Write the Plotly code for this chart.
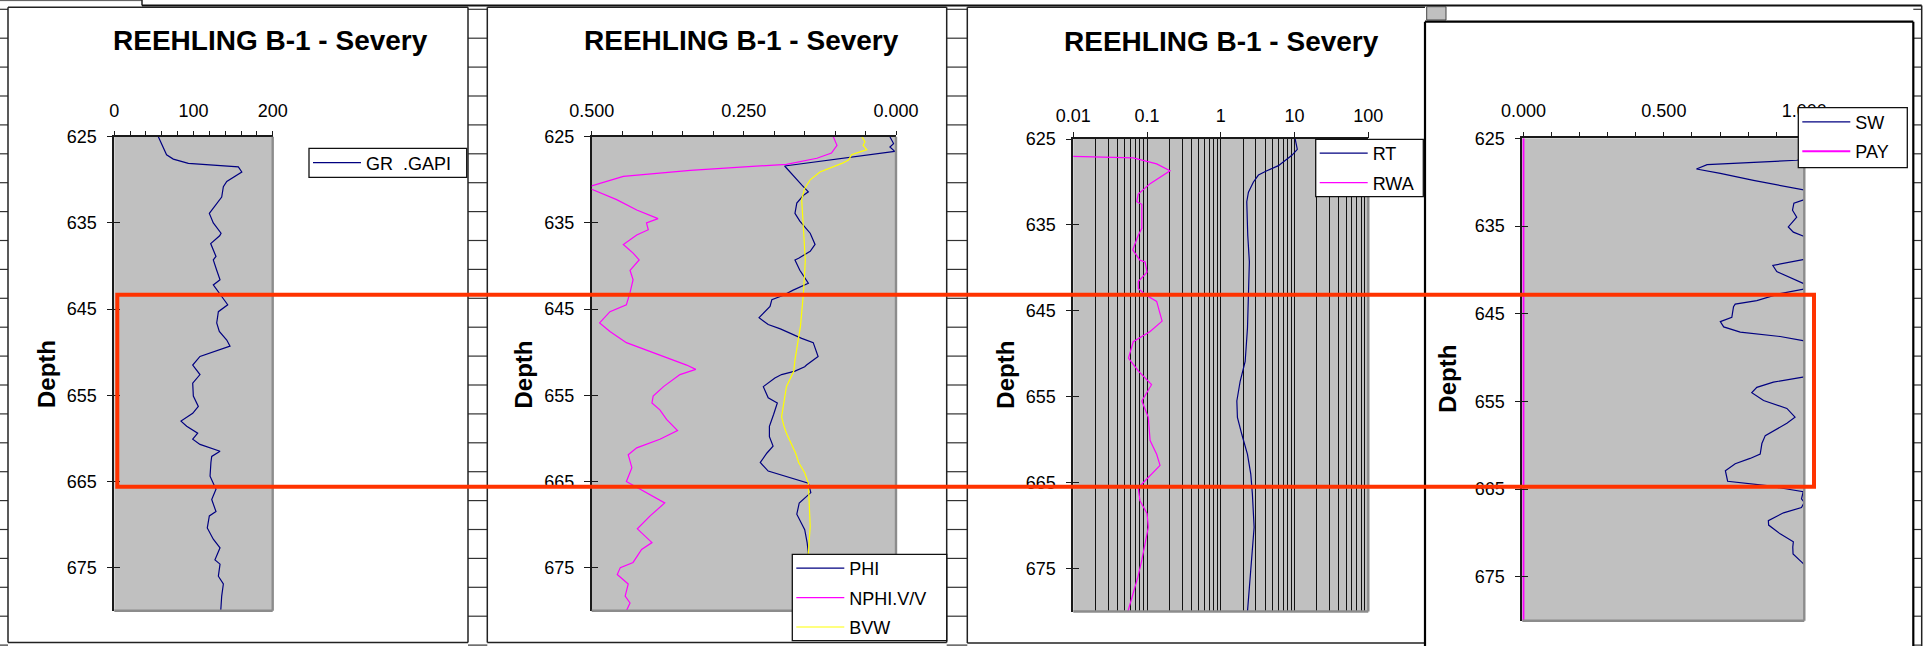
import plotly.graph_objects as go

# ---------------- data ----------------
gr_depth = [625.0, 626.2, 627.1, 627.6, 628.1, 628.5, 629.1, 630.2, 630.8, 632.0, 633.9, 635.0,
            636.2, 636.5, 637.4, 638.9, 639.3, 640.5, 641.6, 642.2, 643.3, 644.5, 645.3, 646.6,
            647.6, 648.6, 649.3, 649.7, 650.5, 651.5, 652.6, 653.6, 655.1, 656.3, 657.1, 658.0,
            658.6, 659.4, 660.1, 660.7, 661.5, 662.1, 662.8, 664.4, 665.9, 667.1, 668.5, 669.0,
            670.4, 671.7, 672.7, 674.1, 674.6, 676.0, 676.9, 678.3, 680.0]
gr_api = [55.6, 61.9, 66.0, 74.5, 93.5, 156.6, 161.0, 142.0, 137.7, 135.6, 120.0, 125.0,
          134.8, 133.0, 121.7, 128.4, 125.0, 129.3, 133.5, 125.0, 133.5, 143.2, 131.4, 129.3,
          132.6, 142.0, 146.1, 133.5, 108.2, 99.0, 108.2, 99.0, 99.8, 106.1, 99.0, 84.2,
          91.4, 105.3, 99.0, 108.2, 133.5, 123.0, 122.0, 120.9, 128.4, 123.0, 128.4, 120.0,
          117.4, 125.0, 133.5, 127.1, 133.5, 131.4, 137.7, 135.6, 134.4]

phi_depth = [625.0, 625.8, 626.2, 626.7, 628.4, 628.8, 629.6, 630.6, 631.4, 631.8, 632.7, 633.9,
             634.8, 636.2, 637.5, 638.3, 639.1, 639.3, 640.5, 641.4, 642.0, 642.8, 643.4, 643.9,
             644.7, 646.0, 646.8, 647.3, 648.4, 648.9, 650.5, 651.5, 651.7, 652.2, 652.6, 653.0,
             654.0, 655.3, 655.9, 657.2, 658.6, 659.8, 660.9, 661.7, 662.8, 663.8, 664.4, 665.2,
             666.3, 667.5, 668.8, 670.6, 672.1, 673.3, 676.0, 680.0]
phi = [0.010, 0.004, 0.010, 0.002, 0.183, 0.178, 0.169, 0.155, 0.144, 0.152, 0.163, 0.166,
       0.158, 0.141, 0.133, 0.141, 0.160, 0.166, 0.158, 0.150, 0.144, 0.169, 0.185, 0.204,
       0.207, 0.225, 0.210, 0.190, 0.155, 0.136, 0.128, 0.147, 0.150, 0.166, 0.188, 0.199,
       0.218, 0.210, 0.195, 0.201, 0.208, 0.208, 0.202, 0.212, 0.223, 0.210, 0.180, 0.144,
       0.140, 0.159, 0.163, 0.150, 0.146, 0.144, 0.145, 0.146]

nphi_depth = [625.0, 626.0, 626.9, 627.5, 628.2, 628.9, 629.6, 630.7, 630.9, 631.1, 632.3, 633.5,
              634.5, 635.0, 635.8, 636.4, 637.5, 638.5, 639.3, 640.5, 641.6, 643.1, 644.5, 645.3,
              646.6, 647.6, 648.9, 650.5, 651.5, 652.0, 652.6, 654.0, 655.1, 655.9, 656.7, 657.8,
              659.1, 660.1, 661.1, 661.9, 663.4, 665.0, 666.3, 667.5, 669.0, 670.5, 672.1, 672.9,
              674.4, 675.0, 675.8, 676.9, 678.3, 679.1, 680.0]
nphi = [0.103, 0.097, 0.106, 0.130, 0.180, 0.338, 0.448, 0.500, 0.520, 0.500, 0.459, 0.426,
        0.391, 0.410, 0.407, 0.426, 0.448, 0.432, 0.422, 0.437, 0.432, 0.437, 0.443, 0.470,
        0.487, 0.470, 0.443, 0.382, 0.344, 0.329, 0.355, 0.382, 0.399, 0.401, 0.388, 0.377,
        0.359, 0.388, 0.426, 0.440, 0.434, 0.443, 0.410, 0.380, 0.404, 0.425, 0.401, 0.418,
        0.432, 0.453, 0.458, 0.440, 0.445, 0.437, 0.443]

bvw_depth = [625.0, 625.6, 626.0, 626.5, 627.1, 627.7, 628.1, 629.1, 630.0, 631.0, 632.3, 636.2,
             639.3, 643.1, 647.0, 650.9, 652.2, 654.0, 656.7, 657.5, 658.6, 659.4, 661.7, 662.8,
             664.0, 665.2, 670.2, 673.3, 680.0]
bvw = [0.056, 0.051, 0.054, 0.048, 0.073, 0.078, 0.089, 0.125, 0.141, 0.150, 0.155, 0.152,
       0.149, 0.152, 0.157, 0.166, 0.168, 0.180, 0.186, 0.188, 0.184, 0.180, 0.165, 0.160,
       0.150, 0.144, 0.141, 0.144, 0.143]

rt_depth = [625.0, 625.3, 626.2, 626.9, 628.1, 628.7, 629.2, 630.0, 631.2, 632.3, 636.2, 639.3,
            647.0, 650.9, 653.2, 655.5, 657.4, 659.4, 661.7, 664.0, 666.3, 670.2, 675.0, 680.0]
rt = [10.2, 10.4, 10.9, 9.2, 6.05, 4.21, 3.24, 2.77, 2.37, 2.25, 2.32, 2.44,
      2.30, 2.14, 1.83, 1.65, 1.68, 1.93, 2.30, 2.55, 2.68, 2.83, 2.55, 2.30]

rwa_depth = [626.9, 627.2, 627.9, 628.7, 630.2, 631.4, 632.3, 632.6, 635.4, 636.2, 637.9, 639.1,
             639.3, 640.5, 641.6, 642.4, 643.1, 643.9, 646.2, 647.4, 648.6, 650.5, 652.0, 653.6,
             655.5, 657.4, 660.1, 661.7, 663.0, 664.4, 665.6, 667.1, 668.6, 670.2, 672.0, 674.0,
             676.0, 678.0, 680.0]
rwa = [0.003, 0.065, 0.135, 0.205, 0.110, 0.076, 0.0725, 0.085, 0.085, 0.076, 0.064, 0.080,
       0.094, 0.100, 0.076, 0.076, 0.094, 0.135, 0.160, 0.110, 0.065, 0.056, 0.076, 0.115,
       0.085, 0.104, 0.110, 0.135, 0.150, 0.104, 0.076, 0.080, 0.100, 0.104, 0.095, 0.085,
       0.075, 0.065, 0.055]

sw_depth = [625.0, 627.4, 627.5, 627.7, 628.0, 628.5, 629.0, 629.8, 630.5, 630.9, 631.5, 632.0,
            632.4, 633.2, 634.0, 635.1, 635.7, 636.2, 637.5, 638.8, 639.5, 640.2, 641.2, 641.6,
            641.9, 642.2, 642.7, 643.5, 643.9, 644.2, 645.4, 645.9, 646.5, 647.1, 647.6, 648.1,
            650.0, 652.2, 652.8, 653.4, 654.0, 654.9, 655.8, 656.8, 657.5, 658.9, 659.8, 661.0,
            661.5, 662.1, 662.9, 664.1, 664.6, 665.3, 666.1, 666.5, 667.1, 667.7, 668.6, 669.1,
            670.1, 671.0, 671.6, 672.4, 673.1, 673.6, 675.0, 680.0]
sw = [1.0, 1.0, 0.973, 0.843, 0.654, 0.616, 0.701, 0.819, 0.938, 1.0, 1.1, 1.0,
      0.963, 0.958, 0.973, 0.943, 0.961, 1.0, 1.1, 1.0, 0.888, 0.902, 0.973, 1.0,
      1.05, 1.0, 0.914, 0.831, 0.754, 0.748, 0.742, 0.701, 0.713, 0.772, 0.914, 1.0,
      1.1, 1.0, 0.890, 0.831, 0.813, 0.855, 0.938, 0.967, 0.938, 0.861, 0.849, 0.843,
      0.807, 0.754, 0.719, 0.727, 0.867, 0.996, 0.990, 1.0, 0.990, 0.926, 0.872, 0.873,
      0.914, 0.961, 0.959, 0.960, 0.985, 1.0, 1.1, 1.1]

pay_depth = [625.0, 680.0]
pay = [0.0, 0.0]

depth_ticks = [625, 635, 645, 655, 665, 675]
depth_range = [680, 625]
gr_ticks = list(range(0, 201, 20))
gr_labels = {0: "0", 100: "100", 200: "200"}
por_ticks = [round(0.05 * i, 2) for i in range(11)]
por_labels = {0.5: "0.500", 0.25: "0.250", 0.0: "0.000"}
res_major = [0.01, 0.1, 1, 10, 100]
res_labels = ["0.01", "0.1", "1", "10", "100"]
sw_ticks = [round(0.1 * i, 1) for i in range(11)]
sw_labels = {0.0: "0.000", 0.5: "0.500", 1.0: "1.000"}
title_text = "REEHLING B-1 - Severy"

# ---------------- layout helpers ----------------
W, H = 1931, 646
FONT = "Liberation Sans, Arial, sans-serif"
NAVY, MAG, YEL = "#000080", "#FF00FF", "#FFFF00"
BG = "#C0C0C0"
AX = "#1a1a1a"
FS = 18
TICKF = dict(family=FONT, size=FS, color="black")


def px_x(a, b):
    return [a / W, b / W]


def px_y(top, bottom):
    return [1 - bottom / H, 1 - top / H]


panels = {
    1: dict(x=(114.3, 272.7), y=(136.7, 610.7)),
    2: dict(x=(591.7, 896.0), y=(136.7, 610.7)),
    3: dict(x=(1073.3, 1368.3), y=(139.0, 611.5)),
    4: dict(x=(1522.3, 1804.3), y=(138.3, 620.7)),
}

fig = go.Figure()

fig.add_trace(go.Scatter(x=gr_api, y=gr_depth, mode="lines", name="GR\u00a0\u00a0.GAPI",
                         line=dict(color=NAVY, width=1.2), xaxis="x", yaxis="y", legend="legend"))
fig.add_trace(go.Scatter(x=phi, y=phi_depth, mode="lines", name="PHI", legendgroup="a",
                         line=dict(color=NAVY, width=1.2), xaxis="x2", yaxis="y2", legend="legend2"))
fig.add_trace(go.Scatter(x=nphi, y=nphi_depth, mode="lines", name="NPHI.V/V", legendgroup="b",
                         line=dict(color=MAG, width=1.2), xaxis="x2", yaxis="y2", legend="legend2"))
fig.add_trace(go.Scatter(x=bvw, y=bvw_depth, mode="lines", name="BVW", legendgroup="c",
                         line=dict(color=YEL, width=1.2), xaxis="x2", yaxis="y2", legend="legend2"))
fig.add_trace(go.Scatter(x=rt, y=rt_depth, mode="lines", name="RT", legendgroup="a",
                         line=dict(color=NAVY, width=1.2), xaxis="x3", yaxis="y3", legend="legend3"))
fig.add_trace(go.Scatter(x=rwa, y=rwa_depth, mode="lines", name="RWA", legendgroup="b",
                         line=dict(color=MAG, width=1.2), xaxis="x3", yaxis="y3", legend="legend3"))
fig.add_trace(go.Scatter(x=sw, y=sw_depth, mode="lines", name="SW", legendgroup="a",
                         line=dict(color=NAVY, width=1.2), xaxis="x4", yaxis="y4", legend="legend4"))
fig.add_trace(go.Scatter(x=pay, y=pay_depth, mode="lines", name="PAY", legendgroup="b",
                         line=dict(color=MAG, width=2), xaxis="x4", yaxis="y4", legend="legend4"))

# empty helper traces so that the overlay axes (inside ticks / log labels) get drawn
for xa, ya in [("x", "y5"), ("x2", "y6"), ("x3", "y7"), ("x4", "y8"), ("x5", "y3")]:
    fig.add_trace(go.Scatter(x=[], y=[], mode="lines", xaxis=xa, yaxis=ya, showlegend=False,
                             hoverinfo="skip"))


def yax(i, inside=False):
    p = panels[i]
    d = dict(domain=px_y(*p["y"]), range=depth_range, tickmode="array", tickvals=depth_ticks,
             showgrid=False, zeroline=False, fixedrange=True, automargin=False)
    if inside:
        d.update(ticks="inside", ticklen=6, tickwidth=1.2, tickcolor=AX, showticklabels=False,
                 showline=False, overlaying="y" if i == 1 else "y%d" % i,
                 anchor="x" if i == 1 else "x%d" % i)
    else:
        d.update(ticks="outside", ticklen=6, tickwidth=1.2, tickcolor=AX, tickfont=TICKF,
                 ticklabelstandoff=6, showline=True, linecolor=AX, linewidth=1.6,
                 anchor="x" if i == 1 else "x%d" % i, layer="below traces")
    return d


def xax(i, rng, tickvals, ticktext, ticklen=4):
    p = panels[i]
    return dict(domain=px_x(*p["x"]), range=rng, side="top", tickmode="array",
                tickvals=tickvals, ticktext=ticktext, ticks="outside", ticklen=ticklen,
                tickwidth=1.2, tickcolor=AX, tickfont=TICKF, ticklabelstandoff=7, tickangle=0,
                showline=True, linecolor=AX, linewidth=1.6, showgrid=False, zeroline=False,
                anchor="y" if i == 1 else "y%d" % i, fixedrange=True, automargin=False)


res_grid = [m * 10.0 ** e for e in range(-2, 2) for m in range(1, 10)] + [100]

layout = dict(
    width=W, height=H, autosize=False, margin=dict(l=0, r=0, t=0, b=0, pad=0),
    paper_bgcolor="white", plot_bgcolor=BG, font=dict(family=FONT, color="black"),
    xaxis=xax(1, [0, 200], gr_ticks, [gr_labels.get(v, "") for v in gr_ticks]),
    xaxis2=xax(2, [0.5, 0], por_ticks, [por_labels.get(v, "") for v in por_ticks]),
    xaxis3=dict(domain=px_x(*panels[3]["x"]), type="log", range=[-2, 2], side="top",
                tickmode="array", tickvals=res_grid, ticks="", showticklabels=False,
                showgrid=True, gridcolor="#111111", gridwidth=1, showline=True,
                linecolor=AX, linewidth=1.6, zeroline=False, anchor="y3", fixedrange=True,
                automargin=False),
    xaxis5=dict(type="log", range=[-2, 2], side="top", overlaying="x3", anchor="y3",
                tickmode="array", tickvals=res_major, ticktext=res_labels, ticks="outside",
                ticklen=6, tickwidth=1.2, tickcolor=AX, tickfont=TICKF, ticklabelstandoff=3,
                tickangle=0, showgrid=False, showline=False, zeroline=False, fixedrange=True,
                automargin=False),
    xaxis4=xax(4, [-0.004, 1.0], sw_ticks, [sw_labels.get(v, "") for v in sw_ticks], ticklen=5),
    yaxis=yax(1), yaxis2=yax(2), yaxis3=yax(3), yaxis4=yax(4),
    yaxis5=yax(1, True), yaxis6=yax(2, True), yaxis7=yax(3, True), yaxis8=yax(4, True),
    showlegend=True,
)

# legend boxes (drawn as shapes) and the legend entries placed inside them
legend_boxes = {
    "legend": dict(box=(309, 148.3, 466.7, 177.3), first=163.5),
    "legend2": dict(box=(792.3, 554.3, 946.7, 640.7), first=569),
    "legend3": dict(box=(1315.7, 139.3, 1423.3, 196.7), first=154),
    "legend4": dict(box=(1798.3, 107.7, 1907.3, 167.7), first=122.7),
}
for key, lb in legend_boxes.items():
    left = lb["box"][0]
    layout[key] = dict(x=(left - 1) / W, y=1 - (lb["first"] - 19) / H, xanchor="left",
                       yanchor="top", bgcolor="rgba(0,0,0,0)", borderwidth=0,
                       font=dict(family=FONT, size=FS, color="black"),
                       tracegroupgap=3, itemwidth=48)

fig.update_layout(**layout)

# ---------------- titles and axis titles ----------------
annots = []
for cx, cy in [(270, 41), (741.7, 41), (1221, 42)]:
    annots.append(dict(text="<b>%s</b>" % title_text, x=cx / W, y=1 - cy / H, xref="paper",
                       yref="paper", showarrow=False, xanchor="center", yanchor="middle",
                       font=dict(family=FONT, size=28, color="black")))
for cx, cy in [(45.8, 374.2), (523.3, 374.2), (1004.7, 375), (1447.5, 379.2)]:
    annots.append(dict(text="<b>Depth</b>", x=cx / W, y=1 - cy / H, xref="paper", yref="paper",
                       showarrow=False, xanchor="center", yanchor="middle", textangle=-90,
                       font=dict(family=FONT, size=24, color="black")))
fig.update_layout(annotations=annots)

# ---------------- sheet decoration, frames, plot borders, highlight ----------------
shapes = []


def line(x0, y0, x1, y1, color="#222222", width=1.5, layer="below"):
    shapes.append(dict(type="line", xref="paper", yref="paper", x0=x0 / W, x1=x1 / W,
                       y0=1 - y0 / H, y1=1 - y1 / H, line=dict(color=color, width=width),
                       layer=layer))


def rect(x0, y0, x1, y1, fill, color, width, layer):
    shapes.append(dict(type="rect", xref="paper", yref="paper", x0=x0 / W, x1=x1 / W,
                       y0=1 - y1 / H, y1=1 - y0 / H, fillcolor=fill,
                       line=dict(color=color, width=width), layer=layer))


# spreadsheet rows visible in the gaps
rows = [9.3 + 28.9 * k for k in range(23)]
for (a, b) in [(0, 8), (468, 487.3), (946.7, 967.3), (1913.3, 1921.7)]:
    for r in rows:
        line(a, r, b, r, color="#333333", width=1.2)
# top strip
line(0, 0.6, 142, 0.6, color="#555555", width=1)
line(142, 0, 142, 5.5, color="#222222", width=1.5)
line(142, 5.5, 1921.7, 5.5, color="#111111", width=2)
# chart frames
for (a, b) in [(8, 468), (487.3, 946.7)]:
    line(a, 7.3, b, 7.3)
    line(a, 7.3, a, 642.5)
    line(b, 7.3, b, 642.5)
    line(a, 642.5, b, 642.5)
line(967.3, 7.3, 1425, 7.3)
line(967.3, 7.3, 967.3, 643)
line(967.3, 643, 1425, 643)
line(1921.7, 5.5, 1921.7, 646, color="#222222", width=1.5)
rect(1426.7, 6.7, 1446, 20, BG, "#444", 1, "below")
line(1425, 21.7, 1913.3, 21.7, color="#000000", width=2.2)
line(1425, 21.7, 1425, 646, color="#000000", width=2.2)
line(1913.3, 21.7, 1913.3, 646, color="#000000", width=2.2)
# plot area right / bottom borders
for i, p in panels.items():
    (xl, xr), (yt, yb) = p["x"], p["y"]
    line(xr, yt, xr, yb, color="#8c8c8c", width=2.4, layer="above")
    line(xl, yb, xr, yb, color="#8c8c8c", width=2.4, layer="above")
# legend boxes
for lb in legend_boxes.values():
    x0, y0, x1, y1 = lb["box"]
    rect(x0, y0, x1, y1, "white", "#111111", 1.3, "above")
# red highlight rectangle
rect(117.3, 294.7, 1814, 486.8, "rgba(0,0,0,0)", "#FF3300", 4, "above")
fig.update_layout(shapes=shapes)

# remove the default page margin so the figure sits at the window origin
fig.write_html("out.html", config={"displayModeBar": False},
               post_script="document.body.style.margin='0';"
                           "document.body.style.overflow='hidden';")
